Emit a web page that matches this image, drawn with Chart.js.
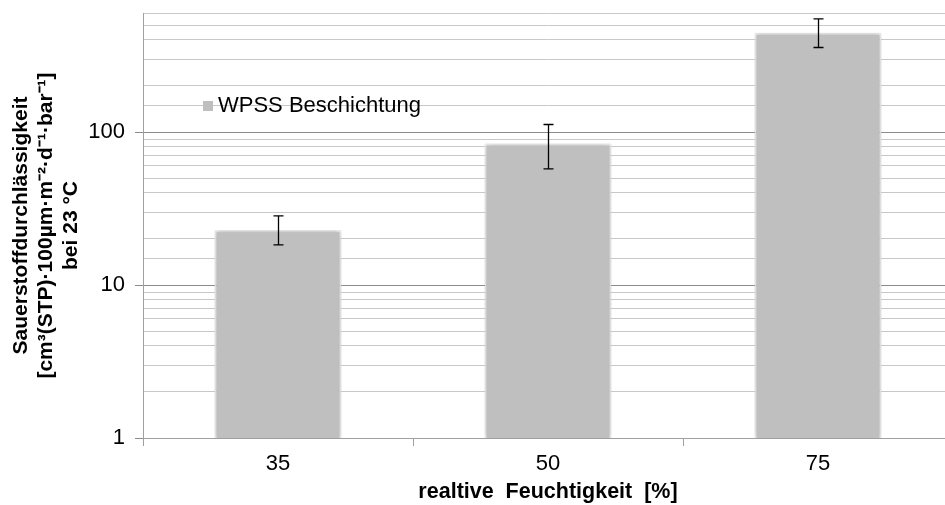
<!DOCTYPE html>
<html><head><meta charset="utf-8">
<script src="https://cdn.jsdelivr.net/npm/chart.js@4.4.0/dist/chart.umd.min.js"></script>
<style>html,body{margin:0;padding:0;background:#fff;overflow:hidden;width:945px;height:505px}
#wrap{width:956px;height:505px}</style></head>
<body><div id="wrap"><canvas id="c" width="956" height="505"></canvas></div>
<script>
const categories = ['35', '50', '75'];
const seriesLabel = 'WPSS Beschichtung';
const values = [22.8, 84, 445];
const errLow = [18.3, 57.4, 357];
const errHigh = [28.3, 112, 549];
const yTickLabels = [1, 10, 100];
const yTitle = ['Sauerstoffdurchlässigkeit', '[cm³(STP)·100µm·m⁻²·d⁻¹·bar⁻¹]', 'bei 23 °C'];
const xTitle = 'realtive  Feuchtigkeit  [%]';

const FAM = '"Liberation Sans", Arial, sans-serif';
const BAR = '#bfbfbf';
function isMajor(v){ const l = Math.log10(v); return Math.abs(l - Math.round(l)) < 1e-9; }

const shadowPlugin = {
  id: 'shadow',
  beforeDatasetDraw(chart){ const c = chart.ctx; c.save(); c.shadowColor = 'rgba(0,0,0,0.28)'; c.shadowBlur = 5; },
  afterDatasetDraw(chart){ chart.ctx.restore(); }
};
const errPlugin = {
  id: 'err',
  afterDatasetsDraw(chart){
    const c = chart.ctx, y = chart.scales.y, meta = chart.getDatasetMeta(0);
    c.save(); c.strokeStyle = '#000'; c.lineWidth = 1.3;
    meta.data.forEach((bar, i) => {
      const x = Math.round(bar.x) + 0.5, yh = y.getPixelForValue(errHigh[i]), yl = y.getPixelForValue(errLow[i]);
      c.beginPath();
      c.moveTo(x, yh); c.lineTo(x, yl);
      c.moveTo(x - 5, yh); c.lineTo(x + 5, yh);
      c.moveTo(x - 5, yl); c.lineTo(x + 5, yl);
      c.stroke();
    });
    c.restore();
  }
};
const legendPlugin = {
  id: 'leg',
  afterDraw(chart){
    const c = chart.ctx, a = chart.chartArea;
    const lx = a.left + 60, ly = a.top + 93;
    c.save();
    c.fillStyle = BAR; c.fillRect(lx, ly - 5, 10, 10);
    c.fillStyle = '#000'; c.font = '22px ' + FAM; c.textBaseline = 'middle'; c.textAlign = 'left';
    c.fillText(seriesLabel, lx + 15, ly);
    c.restore();
  }
};

new Chart(document.getElementById('c'), {
  type: 'bar',
  data: { labels: categories, datasets: [{ label: seriesLabel, data: values, backgroundColor: BAR,
    borderColor: '#ececec', borderWidth: 2, barPercentage: 0.47, categoryPercentage: 1 }] },
  plugins: [shadowPlugin, errPlugin, legendPlugin],
  options: {
    responsive: false, animation: false, devicePixelRatio: 1,
    layout: { padding: { left: 0, top: 13, right: 3, bottom: 0 } },
    plugins: { legend: { display: false }, tooltip: { enabled: false } },
    scales: {
      x: {
        grid: { drawOnChartArea: false, tickLength: 8, color: '#a0a0a0', offset: true },
        border: { color: '#a0a0a0' },
        ticks: { font: { family: FAM, size: 22 }, color: '#000', padding: 5, maxRotation: 0 },
        title: { display: true, text: xTitle, font: { family: FAM, size: 21.5, weight: 'bold', lineHeight: 1.2 }, color: '#000', padding: { top: 2, bottom: 0 } },
        afterFit(s){ s.height = 67; s.paddingLeft = 0; s.paddingRight = 0; }
      },
      y: {
        type: 'logarithmic', min: 1, max: 600,
        border: { color: '#a0a0a0' },
        grid: {
          color: ctx => isMajor(ctx.tick.value) ? '#8c8c8c' : '#c8c8c8',
          tickColor: ctx => isMajor(ctx.tick.value) ? '#8c8c8c' : 'rgba(0,0,0,0)',
          tickLength: 8, lineWidth: 1
        },
        ticks: { autoSkip: false, callback: v => yTickLabels.includes(v) ? String(v) : '',
          font: { family: FAM, size: 22 }, color: '#000', padding: 10 },
        title: { display: true, text: yTitle, font: { family: FAM, size: 21, weight: 'bold', lineHeight: 1.19 }, color: '#000', padding: { top: 9, bottom: 0 } },
        afterFit(s){ s.width = 143; s.paddingTop = 0; s.paddingBottom = 0; }
      }
    }
  }
});
</script></body></html>
